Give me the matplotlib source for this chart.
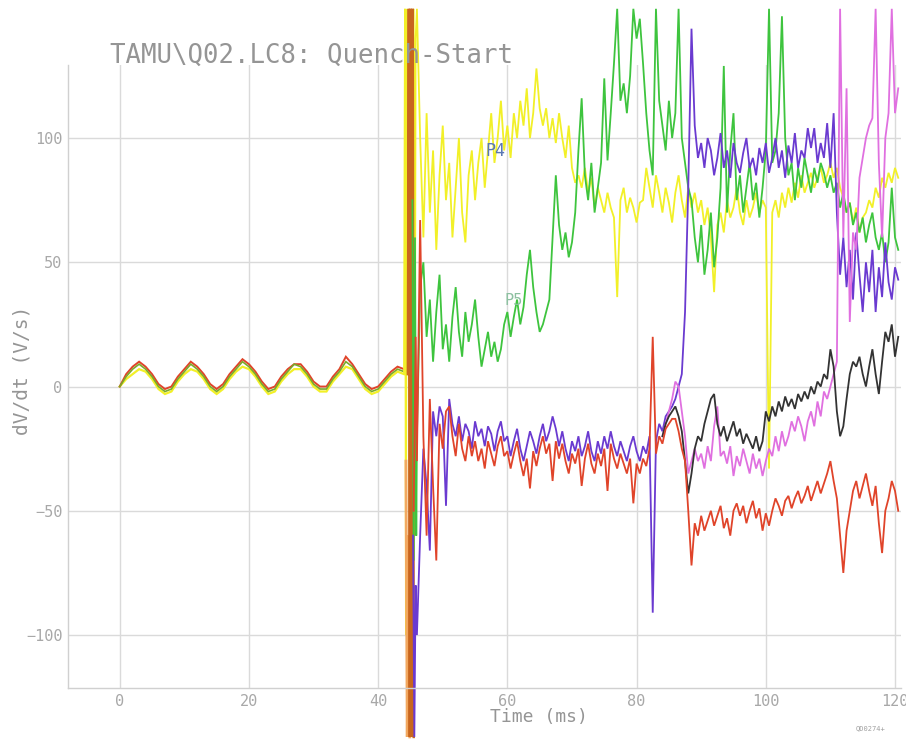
import numpy as np
import matplotlib
matplotlib.use("Agg")
import matplotlib.pyplot as plt

# ---------------- data ----------------
title = "TAMU\\Q02.LC8: Quench-Start"
x_ticks = [0, 20, 40, 60, 80, 100, 120]
y_ticks = [-100, -50, 0, 50, 100]

# pre-quench signal (t = 0..44 ms, 1 ms steps)
pre_t = np.arange(0, 45, 1.0)
pre_yellow = [0, 3, 5, 7, 6, 3, -1, -3, -2, 2, 5, 7, 6, 3, -1, -3, -1, 3, 6, 8, 7, 4, 0, -3, -2, 2, 5, 7, 7, 4,
              0, -2, -2, 2, 5, 8, 7, 3, -1, -3, -2, 1, 4, 6, 5]
pre_red = [0, 5, 8, 10, 8, 5, 1, -1, 0, 4, 7, 10, 8, 5, 1, -1, 1, 5, 8, 11, 9, 6, 2, -1, 0, 4, 7, 9, 9, 6,
           2, 0, 0, 4, 7, 12, 9, 5, 1, -1, 0, 3, 6, 8, 7]
pre_olive = [0, 4, 7, 9, 7, 4, 0, -2, -1, 3, 6, 9, 7, 4, 0, -2, 0, 4, 7, 10, 8, 5, 1, -2, -1, 3, 6, 9, 8, 5,
             1, -1, -1, 3, 6, 10, 8, 4, 0, -2, -1, 2, 5, 7, 6]

# quench spike (t ~ 44-46 ms)
spk_orange_t = [44.6, 44.75, 44.9, 45.05, 45.2, 45.35, 45.5]
spk_orange_v = [5, 152, -141, 152, -141, 152, -141]
spk_lorange_t = [44.3, 44.5, 44.7, 44.9]
spk_lorange_v = [-30, -141, -60, -141]
spk_yellow_t = [44.0, 44.15, 44.3, 44.45, 45.0, 45.5, 45.65, 45.8]
spk_yellow_v = [5, 152, -100, 152, -100, 152, -60, 140]
spk_green_t = [45.3, 45.5, 45.7, 45.9]
spk_green_v = [75, -70, 60, -60]
spk_purple_t = [45.4, 45.6, 45.8]
spk_purple_v = [-60, -141, -80]
spk_red_t = [45.5, 45.8]
spk_red_v = [-50, 20]

# post-quench signals (t = 46.0 .. 120.5 ms, 0.5 ms steps)
post_t = np.arange(46.0, 120.6, 0.5)
yellow_post = [152, 100, 60, 110, 70, 95, 55, 85, 105, 75,
               90, 60, 80, 100, 70, 58, 85, 95, 75, 90,
               100, 80, 95, 110, 90, 100, 115, 95, 105, 92,
               110, 100, 115, 105, 120, 100, 110, 128, 112, 105,
               112, 100, 108, 98, 110, 100, 92, 105, 88, 82,
               85, 80, 88, 78, 84, 72, 80, 75, 70, 78,
               72, 68, 36, 75, 80, 70, 76, 72, 66, 74,
               75, 88, 80, 72, 85, 78, 70, 80, 74, 66,
               78, 85, 75, 68, 80, 72, 78, 70, 75, 65,
               72, 60, 38, 65, 70, 62, 75, 68, 72, 80,
               70, 65, 75, 68, 72, 78, 70, 75, 72, -33,
               70, 75, 68, 78, 72, 80, 74, 82, 76, 85,
               78, 82, 86, 80, 84, 88, 82, 85, 90, 84,
               88, 80, 76, 70, 74, 66, 72, 62, 68, 70,
               75, 72, 80, 76, 84, 80, 86, 82, 88, 84]
green_post = [-20, 40, 50, 20, 35, 10, 30, 45, 15, 25,
              10, 28, 40, 22, 12, 30, 18, 25, 35, 20,
              8, 15, 22, 12, 18, 10, 15, 25, 30, 20,
              28, 35, 25, 32, 45, 55, 40, 30, 22, 25,
              30, 35, 60, 85, 65, 55, 62, 52, 58, 70,
              95, 116, 85, 75, 90, 70, 80, 90, 124, 91,
              110, 130, 152, 115, 122, 110, 125, 152, 140, 148,
              130, 110, 95, 85, 152, 115, 105, 95, 115, 100,
              110, 152, 100, 90, 80, 75, 60, 50, 65, 45,
              55, 70, 48, 60, 80, 129, 70, 95, 110, 75,
              85, 70, 80, 90, 75, 82, 68, 80, 95, 152,
              90, 95, 110, 149, 100, 85, 90, 75, 88, 80,
              92, 85, 78, 88, 82, 90, 86, 80, 85, 78,
              82, 72, 78, 70, 74, 65, 70, 62, 68, 58,
              65, 70, 60, 55, 62, 50, 58, 80, 60, 55]
purple_post = [-100, -60, -25, -40, -66, -10, -20, -8, -12, -48,
               -5, -15, -20, -12, -22, -15, -18, -25, -14, -20,
               -17, -24, -16, -19, -26, -18, -14, -22, -20, -28,
               -22, -17, -25, -30, -24, -18, -22, -27, -20, -15,
               -22, -18, -12, -17, -24, -18, -25, -30, -22, -26,
               -20, -28, -24, -18, -26, -30, -22, -27, -20, -25,
               -18, -24, -28, -22, -26, -30, -24, -20, -26, -30,
               -24, -27, -20, -91, -22, -15, -18, -12, -10, -8,
               -5, 0, 5, 30, 80, 144, 105, 92, 98, 88,
               100, 95, 85, 92, 102, 88, 95, 84, 98, 90,
               86, 94, 100, 88, 92, 85, 96, 90, 98, 86,
               92, 100, 88, 95, 84, 97, 90, 102, 88, 95,
               92, 104, 96, 104, 90, 98, 92, 106, 88, 110,
               70, 45, 60, 40, 55, 35, 62, 45, 30, 50,
               38, 55, 30, 48, 36, 58, 42, 35, 48, 43]
red_post = [-30, 67, -20, -60, -5, -40, -70, -15, -25, -10,
            -8, -20, -28, -15, -25, -30, -20, -28, -22, -30,
            -25, -33, -22, -27, -32, -24, -20, -28, -26, -33,
            -27, -22, -30, -36, -29, -41, -26, -32, -25, -20,
            -27, -23, -38, -22, -29, -23, -30, -35, -27, -31,
            -25, -40, -29, -23, -31, -35, -27, -32, -25, -42,
            -23, -29, -33, -27, -31, -35, -29, -47, -31, -35,
            -29, -32, -25, 20, -27, -20, -23, -17, -15, -13,
            -13, -18, -25, -30, -50, -72, -55, -60, -52, -58,
            -54, -50, -56, -52, -48, -57, -53, -60, -50, -47,
            -52, -48, -55, -50, -46, -53, -49, -58, -51, -56,
            -50, -45, -48, -52, -46, -44, -49, -45, -42, -47,
            -44, -40, -46, -42, -38, -43, -39, -35, -30, -38,
            -45, -60, -75, -58, -50, -42, -38, -45, -40, -35,
            -42, -48, -40, -55, -67, -50, -45, -38, -42, -50]

# signals diverging late (t = 84.0 .. 120.5 ms, 0.5 ms steps)
late_t = np.arange(84.0, 120.6, 0.5)
black_late = [-20, -15, -12, -10,
              -8, -12, -18, -30, -43, -35, -25, -20, -22, -15,
              -10, -5, -3, -15, -20, -16, -22, -18, -14, -20,
              -17, -23, -19, -22, -25, -20, -26, -22, -10, -14,
              -8, -12, -6, -10, -4, -8, -5, -9, -3, -6,
              -2, -5, 0, -3, 2, 0, 5, 3, 15, 8,
              -10, -20, -16, -5, 5, 10, 8, 12, 5, 0,
              8, 15, 5, -3, 10, 22, 18, 25, 12, 20]
pink_late = [-20, -15, -10, -5,
             2, 0, -10, -20, -35, -30, -25, -30, -27, -33,
             -24, -30, -16, -8, -28, -26, -31, -24, -36, -28,
             -32, -25, -30, -35, -27, -33, -29, -36, -30, -25,
             -28, -20, -26, -18, -24, -20, -14, -18, -12, -16,
             -22, -14, -10, -16, -6, -12, -2, -5, 0, 5,
             10, 152, 60, 120, 26, 62, 55, 84, 92, 100,
             105, 108, 152, 90, 60, 100, 110, 152, 110, 120]

# annotations
label_p4 = ("P4", 58.1, 94.6)
label_p5 = ("P5", 60.9, 34.8)

# ---------------- style ----------------
C_YELLOW = "#f2f028"
C_GREEN = "#3ec43e"
C_PURPLE = "#6a3ad0"
C_RED = "#e0442a"
C_BLACK = "#333333"
C_PINK = "#e070e0"
C_BROWN = "#c8661e"
C_LORANGE = "#f2a860"
C_OLIVE = "#7aaa2a"
TXT = "#959595"
MONO = ["DejaVu Sans Mono"]

fig = plt.figure(figsize=(9.06, 7.40), dpi=100)
ax = fig.add_axes([0.0751, 0.0703, 0.9199, 0.8419])
ax.set_xlim(-8, 121)
ax.set_ylim(-121.3, 129.4)

ax.set_xticks(x_ticks)
ax.set_yticks(y_ticks)
ax.tick_params(length=0, labelsize=11, labelcolor="#a8a8a8", pad=4)
for lab in ax.get_xticklabels() + ax.get_yticklabels():
    lab.set_family(MONO)
ax.grid(True, color="#dadada", lw=1.0)
ax.set_axisbelow(True)
for s in ["top", "right"]:
    ax.spines[s].set_visible(False)
for s in ["left", "bottom"]:
    ax.spines[s].set_color("#d0d0d0")
    ax.spines[s].set_linewidth(1.0)

lw = 1.3
kw = dict(clip_on=False, solid_joinstyle="miter")

def cat(t1, v1, t2, v2):
    return list(t1) + list(t2), list(v1) + list(v2)

# pre-quench
ax.plot(pre_t, pre_yellow, color=C_YELLOW, lw=1.6, zorder=2.0, **kw)
ax.plot(pre_t, pre_red, color=C_RED, lw=1.4, zorder=2.05, **kw)
ax.plot(pre_t, pre_olive, color=C_OLIVE, lw=1.2, zorder=2.1, **kw)

t, v = cat(spk_yellow_t, spk_yellow_v, post_t, yellow_post)
ax.plot(t, v, color=C_YELLOW, lw=lw, zorder=2.2, **kw)
ax.plot(spk_lorange_t, spk_lorange_v, color=C_LORANGE, lw=2.0, zorder=2.25, **kw)
ax.plot(spk_orange_t, spk_orange_v, color=C_BROWN, lw=1.8, zorder=2.3, **kw)
t, v = cat(spk_green_t, spk_green_v, post_t, green_post)
ax.plot(t, v, color=C_GREEN, lw=lw, zorder=2.35, **kw)
t, v = cat(spk_purple_t, spk_purple_v, post_t, purple_post)
ax.plot(t, v, color=C_PURPLE, lw=lw, zorder=2.4, **kw)
ax.plot(late_t, pink_late, color=C_PINK, lw=lw, zorder=2.45, **kw)
ax.plot(late_t, black_late, color=C_BLACK, lw=lw, zorder=2.5, **kw)
t, v = cat(spk_red_t, spk_red_v, post_t, red_post)
ax.plot(t, v, color=C_RED, lw=lw, zorder=2.55, **kw)

ax.text(label_p4[1], label_p4[2], label_p4[0], color="#5a78b4", fontsize=12,
        family=MONO, ha="center", va="center", zorder=3)
ax.text(label_p5[1], label_p5[2], label_p5[0], color="#8cc0a0", fontsize=11,
        family=MONO, ha="center", va="center", zorder=3)

fig.text(110 / 906, 1 - 56 / 740, title, color=TXT, fontsize=18.5, family=MONO,
         ha="left", va="center")
fig.text(539 / 906, 1 - 717 / 740, "Time (ms)", color=TXT, fontsize=13, family=MONO,
         ha="center", va="center")
fig.text(22 / 906, 1 - 370 / 740, "dV/dt (V/s)", color=TXT, fontsize=14, family=MONO,
         ha="center", va="center", rotation=90)
fig.text(871 / 906, 1 - 728 / 740, "QD0274+", color="#a0a0a0", fontsize=5, family=MONO,
         ha="center", va="center")

fig.savefig("out.png", dpi=100)
